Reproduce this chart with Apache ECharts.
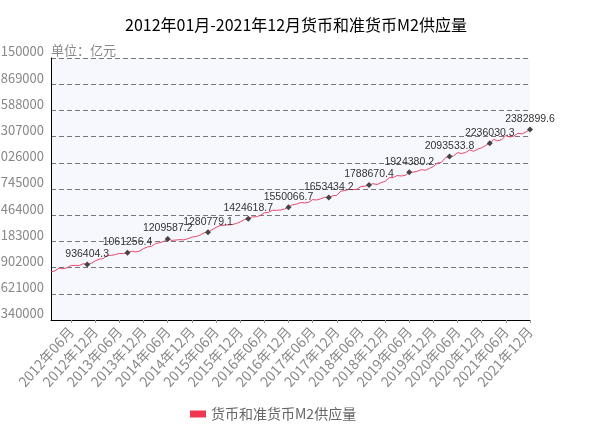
<!DOCTYPE html>
<html>
<head>
<meta charset="utf-8">
<script src="https://cdn.jsdelivr.net/npm/echarts@6/dist/echarts.min.js"></script>
<style>
html,body{margin:0;padding:0;background:#fff;}
#chart{width:610px;height:436px;}
</style>
</head>
<body>
<div id="chart"></div>
<script>
// ---- data ----
const titleText = '2012年01月-2021年12月货币和准货币M2供应量';
const seriesName = '货币和准货币M2供应量';
const unitText = '单位：亿元';
const years = [2012, 2013, 2014, 2015, 2016, 2017, 2018, 2019, 2020, 2021];
const monthNames = ['01','02','03','04','05','06','07','08','09','10','11','12'];
const categories = [];
years.forEach(y => monthNames.forEach(m => categories.push(y + '年' + m + '月')));

const m2Values = [
  855898.9, 867171.4, 895565.5, 889604.0, 900048.7, 924991.2, 925449.4, 924894.5, 943688.8, 936404.3, 947141.3, 974148.8,
  992129.3, 998600.8, 1035858.4, 1032552.2, 1042169.1, 1054403.7, 1052212.4, 1061256.4, 1077379.2, 1070242.2, 1079257.1, 1106525.0,
  1123521.2, 1131272.0, 1160687.4, 1168812.6, 1182300.0, 1209587.2, 1194100.0, 1197400.0, 1202051.4, 1199200.0, 1211900.0, 1228374.8,
  1235800.0, 1248900.0, 1275300.0, 1280779.1, 1308600.0, 1333400.0, 1353200.0, 1356900.0, 1359800.0, 1363100.0, 1374900.0, 1392300.0,
  1416300.0, 1424618.7, 1446200.0, 1446600.0, 1461900.0, 1490500.0, 1492600.0, 1516400.0, 1516400.0, 1519500.0, 1530400.0, 1550066.7,
  1575900.0, 1582900.0, 1599600.0, 1596100.0, 1601400.0, 1631300.0, 1627300.0, 1640000.0, 1655700.0, 1653434.2, 1672300.0, 1676800.0,
  1721400.0, 1729100.0, 1739900.0, 1737700.0, 1743100.0, 1770200.0, 1775900.0, 1788670.4, 1801700.0, 1793000.0, 1812900.0, 1826700.0,
  1865900.0, 1868000.0, 1889400.0, 1884400.0, 1891500.0, 1924380.2, 1925700.0, 1935400.0, 1952100.0, 1946500.0, 1965300.0, 1986500.0,
  2023100.0, 2030800.0, 2080900.0, 2093533.8, 2100200.0, 2134900.0, 2125500.0, 2136800.0, 2164100.0, 2149700.0, 2172000.0, 2186800.0,
  2213000.0, 2236030.3, 2276200.0, 2262100.0, 2275500.0, 2317800.0, 2302200.0, 2312300.0, 2342800.0, 2336200.0, 2356900.0, 2382899.6
];

const labeledMonths = ['2012年10月','2013年08月','2014年06月','2015年04月','2016年02月','2016年12月',
  '2017年10月','2018年08月','2019年06月','2020年04月','2021年02月','2021年12月'];

const yMin = 340000;
const yMax = 3150000;
const yStep = 281000;

// ---- chart ----
const seriesData = m2Values.map((v, i) => {
  if (labeledMonths.indexOf(categories[i]) >= 0) {
    return {
      value: v,
      symbol: 'diamond',
      symbolSize: 6,
      itemStyle: { color: '#444' },
      label: {
        show: true,
        position: 'top',
        distance: 2,
        formatter: p => String(p.value),
        color: '#333',
        fontSize: 10.5,
        fontFamily: 'Liberation Sans, Arial, sans-serif'
      }
    };
  }
  return { value: v, symbol: 'none' };
});

const chart = echarts.init(document.getElementById('chart'), null, { renderer: 'canvas' });
const everySix = (idx) => (idx + 1) % 6 === 0;

chart.setOption({
  animation: false,
  backgroundColor: '#fff',
  textStyle: { fontFamily: 'Noto Sans CJK SC, Noto Sans, sans-serif' },
  title: {
    text: titleText,
    left: 291,
    textAlign: 'center',
    top: 12,
    textStyle: { fontSize: 16, fontWeight: 'normal', color: '#000', fontFamily: 'Noto Sans CJK SC' }
  },
  legend: {
    data: [seriesName],
    left: 185,
    top: 402,
    icon: 'rect',
    itemWidth: 16,
    itemHeight: 7,
    itemGap: 4,
    textStyle: { fontSize: 14, color: '#666', fontFamily: 'Noto Sans CJK SC' }
  },
  grid: {
    left: 51,
    right: 80,
    top: 58,
    bottom: 116,
    outerBoundsMode: 'none',
    containLabel: false,
    show: true,
    backgroundColor: '#f7f8fe',
    borderWidth: 0
  },
  xAxis: {
    type: 'category',
    data: categories,
    boundaryGap: false,
    axisLine: { show: true, lineStyle: { color: '#000', width: 1 } },
    axisTick: { show: true, interval: everySix, length: 3, lineStyle: { color: '#999' } },
    axisLabel: {
      interval: everySix,
      rotate: 48,
      color: '#8a8a8a',
      fontSize: 14,
      margin: 9,
      fontFamily: 'Noto Sans CJK SC'
    },
    splitLine: { show: false }
  },
  yAxis: {
    type: 'value',
    min: yMin,
    max: yMax,
    interval: yStep,
    name: unitText,
    nameLocation: 'end',
    nameGap: 1,
    nameTextStyle: { align: 'left', verticalAlign: 'bottom', color: '#888', fontSize: 13, fontFamily: 'Noto Sans CJK SC', padding: [0, 0, 0, 0] },
    axisLine: { show: true, lineStyle: { color: '#000', width: 1 } },
    axisTick: { show: false },
    axisLabel: {
      color: '#888',
      fontSize: 13,
      margin: 7,
      verticalAlign: 'bottom',
      fontFamily: 'Noto Sans CJK SC',
      formatter: v => String(v)
    },
    splitLine: { show: true, lineStyle: { color: '#777', type: [5, 3], width: 1 } }
  },
  series: [{
    name: seriesName,
    type: 'line',
    data: seriesData,
    itemStyle: { color: '#f03752' },
    lineStyle: { color: '#e8486a', width: 1 },
    showSymbol: true,
    showAllSymbol: true,
    z: 3
  }]
});
</script>
</body>
</html>
